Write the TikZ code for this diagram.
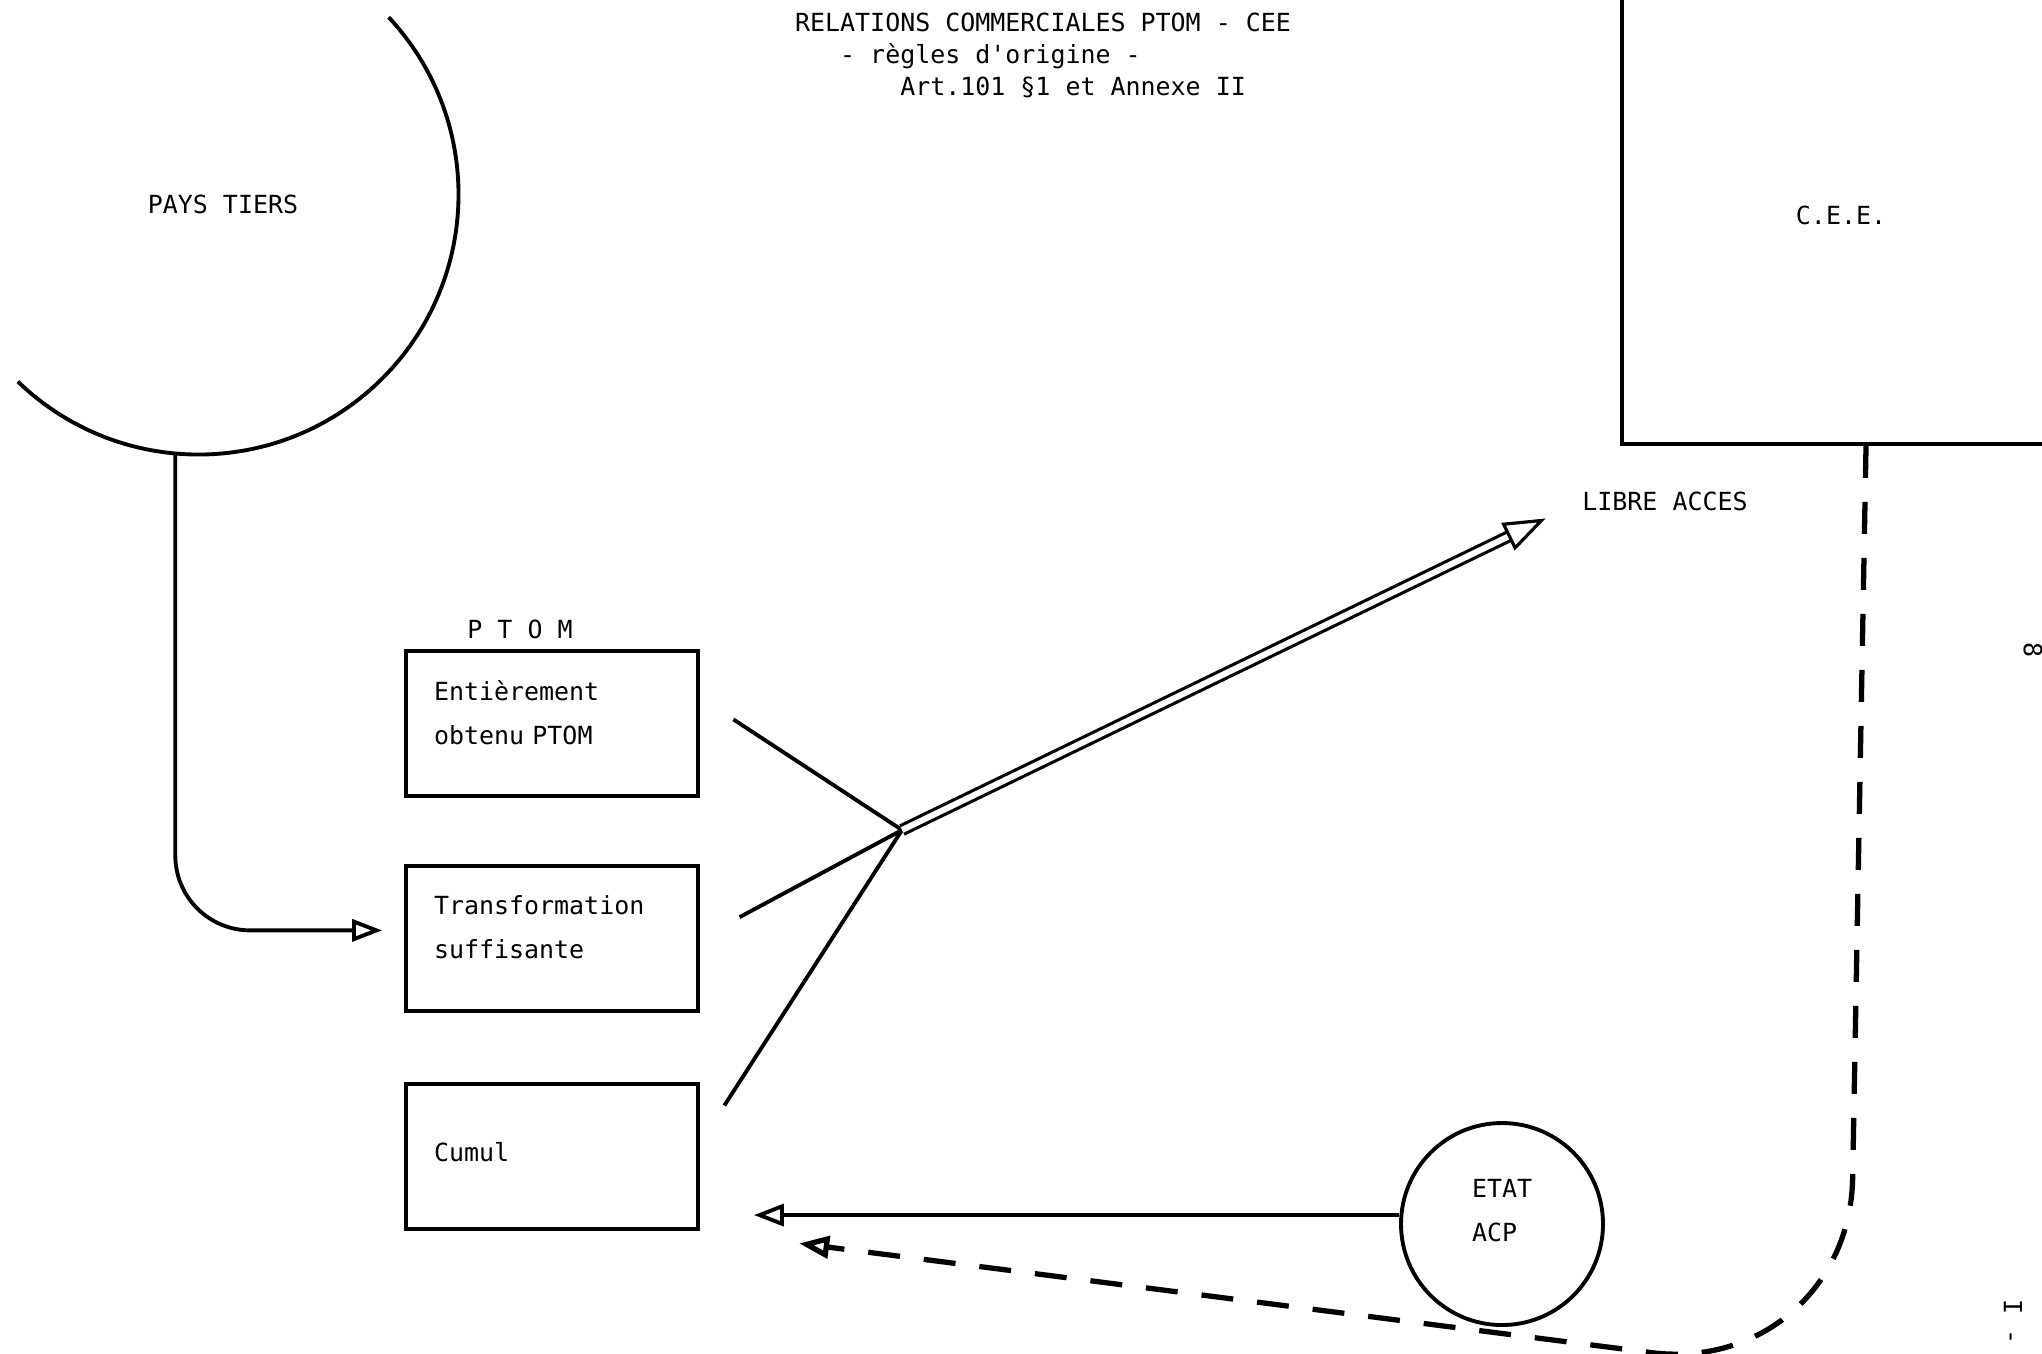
\documentclass[tikz,border=0pt]{standalone}
\usepackage{fontspec}
\setmonofont{DejaVu Sans Mono}
\usepackage{tikz}
\usetikzlibrary{arrows.meta,positioning}
\newcommand\padbelow[1]{\par\vspace*{#1}}

\begin{document}
\begin{tikzpicture}[
font=\ttfamily\fontsize{7.1pt}{12.5pt}\selectfont,
block/.style={draw, line width=1.1pt, minimum width=2.92cm, minimum height=1.45cm, text width=2.36cm, inner xsep=0.28cm, align=left, execute at end node={\padbelow{#1}}},
block/.default=0.22cm,
lbl/.style={inner sep=0pt},
line/.style={line width=1.1pt},
arrow/.style={-{Triangle[open, length=0.3cm, width=0.22cm]}, line width=1.1pt},
dblarrow/.style={double, double distance=0.06cm, line width=0.9pt, -{Triangle[open, length=0.42cm, width=0.3cm]}},
dasharrow/.style={-{Triangle[open, length=0.3cm, width=0.22cm]}, line width=1.5pt, dash pattern=on 0.32cm off 0.24cm},
pagemark/.style={inner sep=0pt, rotate=-90}
]
\useasboundingbox (0,0) rectangle (20.42,-13.53);
\node[lbl, align=left, font=\ttfamily\fontsize{7.1pt}{9.1pt}\selectfont] (title) at (10.43,-0.55) {RELATIONS COMMERCIALES PTOM - CEE\\~~~- règles d'origine -\\~~~~~~~Art.101 §1 et Annexe II};
\node[circle, minimum size=5.2cm, inner sep=0pt] (tiers) at (1.98,-1.95) {};
\node[lbl] (tierslbl) at ([xshift=0.25cm, yshift=-0.09cm]tiers.center) {PAYS TIERS};
\draw[line] (tiers.43) arc[start angle=43, end angle=-134, radius=2.6cm];
\node[block] (box1) at (5.52,-7.235) {Entièrement\\obtenu PTOM};
\node[block, below=0.66cm of box1] (box2) {Transformation\\suffisante};
\node[block=0.08cm, below=0.69cm of box2] (box3) {Cumul};
\node[lbl, above=0.1cm of box1, xshift=-0.32cm] (ptomlbl) {P T O M};
\node[draw, line width=1.1pt, minimum width=4.38cm, minimum height=4.58cm] (cee) at (18.41,-2.15) {C.E.E.};
\node[lbl] (libre) at (16.65,-5.01) {LIBRE ACCES};
\node[draw, circle, line width=1.1pt, minimum size=2.02cm, text width=0.6cm, align=left, execute at end node={\padbelow{0.26cm}}] (acp) at (15.02,-12.24) {ETAT\\ACP};
\coordinate (join) at (9.02,-8.30);
\node[pagemark] (pg) at (20.13,-13.22) {I -};
\node[pagemark] (pgnum) at (20.33,-6.5) {8};
\draw[arrow, rounded corners=0.75cm, shorten >=0.22cm] (tiers.-95) |- ([yshift=0.08cm]box2.west);
\draw[line, shorten <=0.4cm] (box1.10) -- (join);
\draw[line, shorten <=0.45cm] (box2.east) -- (join);
\draw[line, shorten <=0.45cm] (box3.5) -- (join);
\draw[dblarrow, shorten >=0.4cm] (join) -- (libre.west);
\draw[arrow, shorten >=0.54cm] (acp.175) -- (acp.175 -| box3.east);
\draw[dasharrow, rounded corners=2cm, shorten >=1cm] ([xshift=0.25cm]cee.south) -- ++(-0.17,-9.32) -- (box3.south east);
\end{tikzpicture}
\end{document}
